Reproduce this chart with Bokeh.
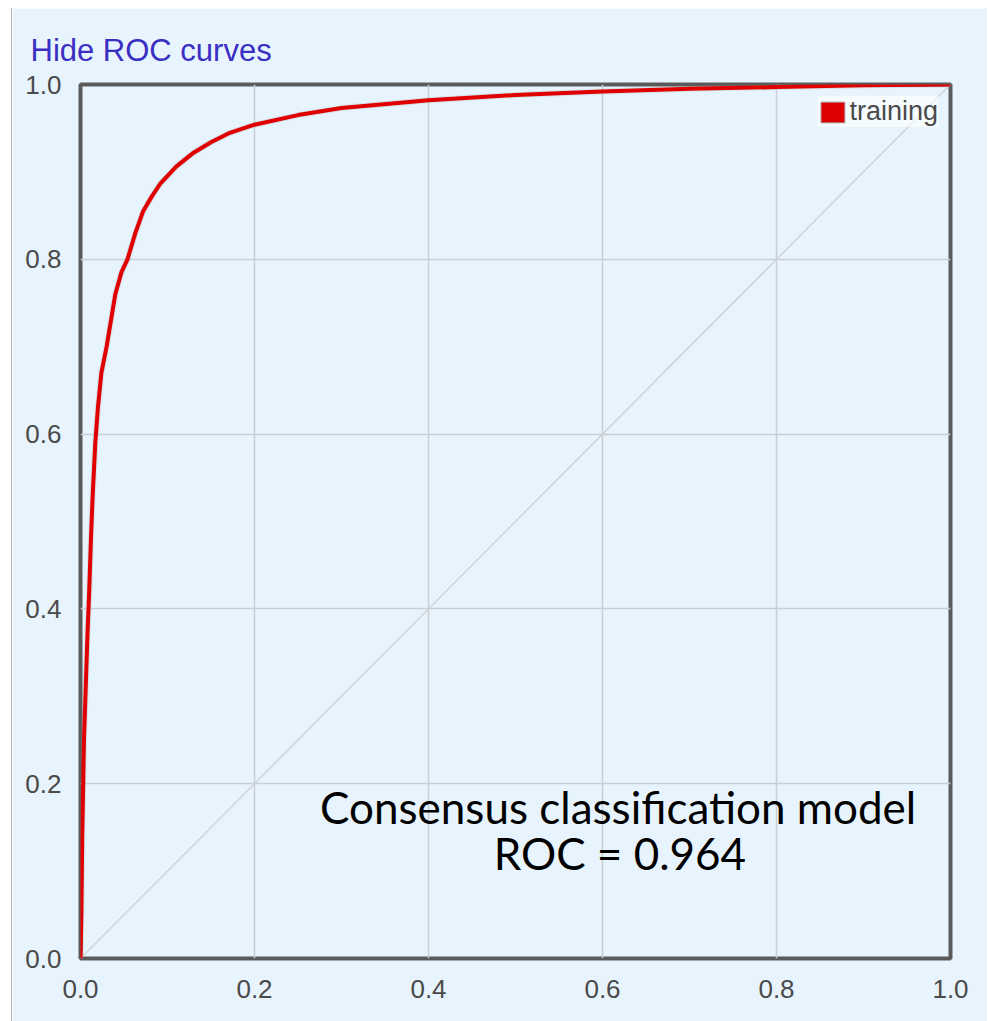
from bokeh.plotting import figure
from bokeh.models import (Label, Legend, LegendItem, Range1d, FixedTicker,
                          ColumnDataSource, CustomJSTickFormatter)
from bokeh.embed import file_html
from bokeh.resources import INLINE

# ROC curve of the consensus classification model (training set)
fpr = [0.0, 0.001, 0.002, 0.004, 0.006, 0.008, 0.010, 0.012, 0.014, 0.017,
       0.020, 0.024, 0.030, 0.035, 0.040, 0.047, 0.054, 0.063, 0.072, 0.082,
       0.092, 0.11, 0.13, 0.15, 0.17, 0.20, 0.25, 0.30, 0.40, 0.50,
       0.60, 0.70, 0.80, 0.90, 1.0]
tpr = [0.0, 0.05, 0.14, 0.25, 0.31, 0.37, 0.42, 0.48, 0.53, 0.59,
       0.63, 0.67, 0.70, 0.73, 0.76, 0.785, 0.80, 0.83, 0.855, 0.872,
       0.887, 0.906, 0.922, 0.934, 0.944, 0.954, 0.965, 0.973, 0.982, 0.988,
       0.992, 0.995, 0.997, 0.999, 1.0]
chance = [0.0, 1.0]
ticks = [0.0, 0.2, 0.4, 0.6, 0.8, 1.0]
series_name = "training"
auc = 0.964

BG = "#e8f4fd"

p = figure(width=976, height=1013, output_backend="svg", toolbar_location=None,
           x_range=Range1d(0, 1), y_range=Range1d(0, 1),
           min_border_left=68, min_border_right=38, min_border_top=76, min_border_bottom=63,
           background_fill_color=BG, border_fill_color=BG,
           title="Hide ROC curves")
p.margin = (8, 0, 0, 11)
p.styles = {"border-left": "1px solid #b8b8b8"}

p.title.align = "left"
p.title.offset = -50
p.title.standoff = 33
p.title.text_font = "Liberation Sans"
p.title.text_font_style = "normal"
p.title.text_font_size = "31px"
p.title.text_color = "#3a2fc2"

p.outline_line_color = "#5a5a5a"
p.outline_line_width = 4

fmt = CustomJSTickFormatter(code="return tick.toFixed(1);")
for ax in (p.xaxis[0], p.yaxis[0]):
    ax.ticker = FixedTicker(ticks=ticks)
    ax.formatter = fmt
    ax.axis_line_color = None
    ax.major_tick_line_color = None
    ax.minor_tick_line_color = None
    ax.major_label_text_font = "Liberation Sans"
    ax.major_label_text_font_size = "26px"
    ax.major_label_text_color = "#4a4a4a"
p.xaxis[0].major_label_standoff = 15
p.yaxis[0].major_label_standoff = 13

p.grid.ticker = FixedTicker(ticks=ticks)
p.grid.grid_line_color = "#c9ced4"
p.grid.grid_line_width = 1.5

# chance diagonal
p.line(chance, chance, line_color="#cfd2d6", line_width=1.5)

# ROC curve with a faint shadow
src = ColumnDataSource(dict(x=fpr, y=tpr))
p.line("x", "y", source=src, line_color="#9aa0a8", line_alpha=0.25, line_width=6)
p.line("x", "y", source=src, line_color="#e00000", line_width=4)

# legend swatch (box kept outside the visible range)
sw = p.quad(left=[2], right=[2.1], top=[2.1], bottom=[2], fill_color="#dd0000",
            line_color="#b0b0b0", line_width=1)
legend = Legend(items=[LegendItem(label=series_name, renderers=[sw])],
                location="top_right", margin=12, padding=1, spacing=0,
                label_standoff=2, glyph_width=30, glyph_height=26,
                background_fill_color="white", background_fill_alpha=0.6,
                border_line_color=None,
                label_text_font="Liberation Sans", label_text_font_size="27px",
                label_text_color="#4a4a4a")
p.add_layout(legend)

p.add_layout(Label(x=0.618, y=0.173, text="Consensus classification model",
                   text_font="Lato", text_font_size="44px", text_color="black",
                   text_align="center", text_baseline="alphabetic"))
p.add_layout(Label(x=0.620, y=0.121, text=f"ROC = {auc:.3f}",
                   text_font="Lato", text_font_size="44px", text_color="black",
                   text_align="center", text_baseline="alphabetic"))

open("out.html", "w").write(file_html(p, INLINE))
